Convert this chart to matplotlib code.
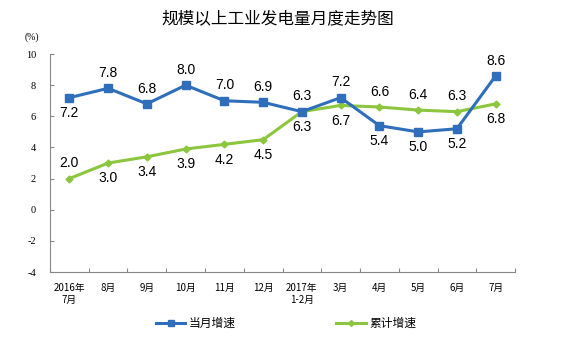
import matplotlib
matplotlib.use("Agg")
import matplotlib.pyplot as plt
from matplotlib.lines import Line2D

plt.rcParams['font.family'] = ['Noto Sans CJK SC', 'DejaVu Sans']

categories = ["2016年\n7月", "8月", "9月", "10月", "11月", "12月", "2017年\n1-2月",
              "3月", "4月", "5月", "6月", "7月"]
monthly = [7.2, 7.8, 6.8, 8.0, 7.0, 6.9, 6.3, 7.2, 5.4, 5.0, 5.2, 8.6]
cumulative = [2.0, 3.0, 3.4, 3.9, 4.2, 4.5, 6.3, 6.7, 6.6, 6.4, 6.3, 6.8]
monthly_pos = ["below", "above", "above", "above", "above", "above", "above",
               "above", "below", "below", "below", "above"]
cumulative_pos = ["above", "below", "below", "below", "below", "below", "below",
                  "below", "above", "above", "above", "below"]
yticks = [-4, -2, 0, 2, 4, 6, 8, 10]

blue = "#2F6EBA"
green = "#8CC63E"

fig = plt.figure(figsize=(5.72, 3.4), dpi=100)
ax = fig.add_axes([0.0874, 0.2, 0.813, 0.641])

x = list(range(len(categories)))
ax.plot(x, cumulative, color=green, lw=2.2, marker="D", ms=3.5, zorder=3)
ax.plot(x, monthly, color=blue, lw=2.2, marker="s", ms=6, zorder=4)

for xi, v, p in zip(x, monthly, monthly_pos):
    off = 11 if p == "above" else -11
    ax.annotate(f"{v:.1f}", (xi, v), xytext=(0, off), textcoords="offset points",
                ha="center", va="center", fontsize=10, family="Liberation Sans")
for xi, v, p in zip(x, cumulative, cumulative_pos):
    off = 11 if p == "above" else -11
    ax.annotate(f"{v:.1f}", (xi, v), xytext=(0, off), textcoords="offset points",
                ha="center", va="center", fontsize=10, family="Liberation Sans")

ax.set_xlim(-0.5, len(categories) - 0.5)
ax.set_ylim(-4, 10)
ax.set_yticks(yticks)
ax.set_yticklabels([str(t) for t in yticks], fontsize=7.5, family="Liberation Serif")
ax.set_xticks([i - 0.5 for i in range(len(categories) + 1)], minor=False)
ax.set_xticklabels([])
ax.set_xticks(x, minor=True)
ax.set_xticklabels(categories, minor=True, fontsize=7)
ax.tick_params(axis="x", which="minor", length=0, pad=8)
ax.tick_params(axis="x", which="major", length=3, direction="in", color="#888888")
ax.tick_params(axis="y", length=3, direction="in", color="#888888", pad=10)
for s in ["top", "right"]:
    ax.spines[s].set_visible(False)
for s in ["left", "bottom"]:
    ax.spines[s].set_color("#888888")
    ax.spines[s].set_linewidth(0.8)

fig.text(0.055, 0.89, "(%)", fontsize=7, family="Liberation Serif", ha="center", va="center")
fig.text(0.485, 0.945, "规模以上工业发电量月度走势图", fontsize=12, ha="center", va="center")

handles = [Line2D([], [], color=blue, lw=2.2, marker="s", ms=5),
           Line2D([], [], color=green, lw=2.2, marker="D", ms=3)]
fig.legend(handles, ["当月增速", "累计增速"], loc="center", bbox_to_anchor=(0.5, 0.048),
           ncol=2, frameon=False, fontsize=8.5, columnspacing=8.5, handlelength=2.5,
           handletextpad=0.3)

fig.savefig("out.png", dpi=100)
